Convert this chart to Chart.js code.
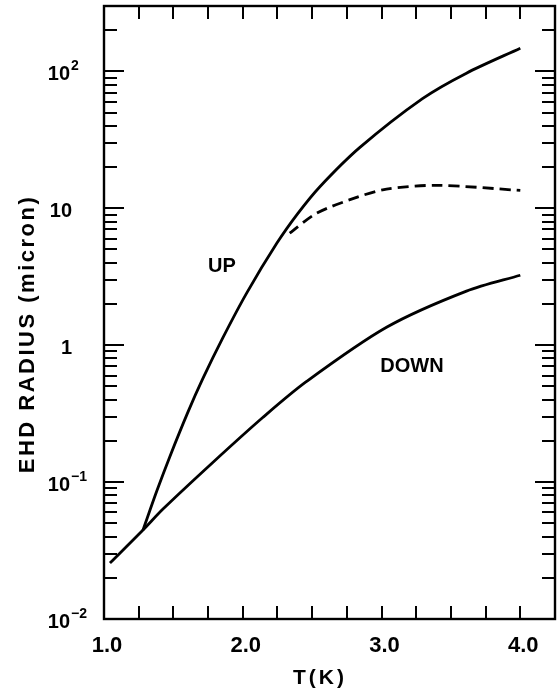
<!DOCTYPE html>
<html>
<head>
<meta charset="utf-8">
<script src="https://cdn.jsdelivr.net/npm/chart.js@4.4.1/dist/chart.umd.min.js"></script>
<style>
  html, body { margin: 0; padding: 0; background: #fff; }
  #wrap { width: 557px; height: 690px; }
</style>
</head>
<body>
<div id="wrap"><canvas id="c" width="557" height="690"></canvas></div>
<script>
// ---- data ----
const upT = [1.281, 1.381, 1.475, 1.604, 1.712, 1.856, 2.029, 2.245, 2.396, 2.554, 2.842, 3.295, 3.612, 4.0];
const upR = [0.0446, 0.0863, 0.154, 0.323, 0.569, 1.13, 2.41, 5.54, 9.13, 14.3, 27.7, 63.2, 97.0, 147.5];
const downT = [1.043, 1.281, 1.425, 1.784, 2.144, 2.460, 3.036, 3.612, 4.0];
const downR = [0.0256, 0.0446, 0.0635, 0.139, 0.296, 0.543, 1.35, 2.48, 3.24];
const plateauT = [2.338, 2.532, 2.820, 3.036, 3.396, 4.0];
const plateauR = [6.57, 9.19, 12.0, 13.8, 14.7, 13.5];

const xTickValues = [1.0, 1.25, 1.5, 1.75, 2.0, 2.25, 2.5, 2.75, 3.0, 3.25, 3.5, 3.75, 4.0];
const xLabelValues = [1.0, 2.0, 3.0, 4.0];
const xLabels = ['1.0', '2.0', '3.0', '4.0'];
const yLabelValues = [0.01, 0.1, 1, 10, 100];
const yLabelBase = ['10', '10', '1', '10', '10'];
const yLabelExp = ['-2', '-1', '', '', '2'];
const xTitle = 'T(K)';
const yTitle = 'EHD RADIUS (micron)';
const curveLabels = ['UP', 'DOWN'];
// ---------------------------------------

const pts = (xs, ys) => xs.map((x, i) => ({ x: x, y: ys[i] }));
const FONT = '"Liberation Sans", Arial, sans-serif';

const decorations = {
  id: 'decorations',
  afterDraw(chart) {
    const ctx = chart.ctx;
    const xs = chart.scales.x, ys = chart.scales.y;
    const a = chart.chartArea;
    ctx.save();
    ctx.strokeStyle = '#000';
    ctx.fillStyle = '#000';
    ctx.lineWidth = 2.4;
    ctx.strokeRect(a.left, a.top, a.right - a.left, a.bottom - a.top);

    // x ticks (inward, bottom and top)
    ctx.lineWidth = 2;
    ctx.beginPath();
    xTickValues.forEach(v => {
      if (v <= xs.min || v >= xs.max) return;
      const px = Math.round(xs.getPixelForValue(v));
      ctx.moveTo(px, a.bottom); ctx.lineTo(px, a.bottom - 13);
      ctx.moveTo(px, a.top); ctx.lineTo(px, a.top + 13);
    });
    ctx.stroke();

    // y ticks (log, inward, left and right)
    ctx.beginPath();
    for (let k = -2; k <= 2; k++) {
      for (let m = 1; m <= 9; m++) {
        const v = m * Math.pow(10, k);
        if (v > ys.max * 1.0001) continue;
        if (v <= ys.min * 1.0001) continue;
        const len = (m === 1) ? 20 : 13;
        const py = Math.round(ys.getPixelForValue(v));
        ctx.moveTo(a.left, py); ctx.lineTo(a.left + len, py);
        ctx.moveTo(a.right, py); ctx.lineTo(a.right - len, py);
      }
    }
    ctx.stroke();

    // x labels
    ctx.font = 'bold 22px ' + FONT;
    ctx.textAlign = 'center';
    ctx.textBaseline = 'middle';
    xLabelValues.forEach((v, i) => {
      ctx.fillText(xLabels[i], xs.getPixelForValue(v) + 3, 646);
    });

    // y labels with superscripts
    yLabelValues.forEach((v, i) => {
      const py = ys.getPixelForValue(v);
      ctx.font = 'bold 20px ' + FONT;
      ctx.textAlign = 'right';
      ctx.textBaseline = 'middle';
      ctx.fillText(yLabelBase[i], yLabelExp[i] ? 70 : 72, py + 3);
      if (yLabelExp[i]) {
        ctx.font = 'bold 14px ' + FONT;
        ctx.textAlign = 'left';
        ctx.fillText(yLabelExp[i].replace('-', '\u2212'), 71, py - 5);
      }
    });

    // axis titles
    ctx.font = 'bold 21px ' + FONT;
    ctx.textAlign = 'center';
    ctx.textBaseline = 'middle';
    ctx.letterSpacing = '3px';
    ctx.fillText(xTitle, 320, 678);
    ctx.save();
    ctx.translate(28, 334);
    ctx.rotate(-Math.PI / 2);
    ctx.font = 'bold 22px ' + FONT;
    ctx.letterSpacing = '2.5px';
    ctx.fillText(yTitle, 0, 0);
    ctx.restore();
    ctx.letterSpacing = '0px';

    // curve labels
    ctx.font = 'bold 20px ' + FONT;
    ctx.fillText(curveLabels[0], 222, 266);
    ctx.fillText(curveLabels[1], 412, 366);
    ctx.restore();
  }
};

const lineStyle = {
  borderColor: '#000',
  borderWidth: 2.8,
  pointRadius: 0,
  fill: false,
  tension: 0.3
};

new Chart(document.getElementById('c'), {
  type: 'line',
  data: {
    datasets: [
      Object.assign({ label: 'UP', data: pts(upT, upR) }, lineStyle),
      Object.assign({ label: 'DOWN', data: pts(downT, downR) }, lineStyle),
      Object.assign({ label: 'UP (saturated)', data: pts(plateauT, plateauR), borderDash: [11, 6] }, lineStyle)
    ]
  },
  options: {
    responsive: false,
    animation: false,
    devicePixelRatio: 1,
    layout: { padding: { top: 6, right: 2, left: 0, bottom: 0 } },
    plugins: { legend: { display: false }, tooltip: { enabled: false } },
    scales: {
      x: {
        type: 'linear',
        min: 1.0,
        max: 4.25,
        grid: { display: false },
        border: { display: false },
        ticks: { display: false },
        afterFit(s) { s.height = 71; }
      },
      y: {
        type: 'logarithmic',
        min: 0.01,
        max: 300,
        grid: { display: false },
        border: { display: false },
        ticks: { display: false },
        afterFit(s) { s.width = 104; }
      }
    }
  },
  plugins: [decorations]
});
</script>
</body>
</html>
